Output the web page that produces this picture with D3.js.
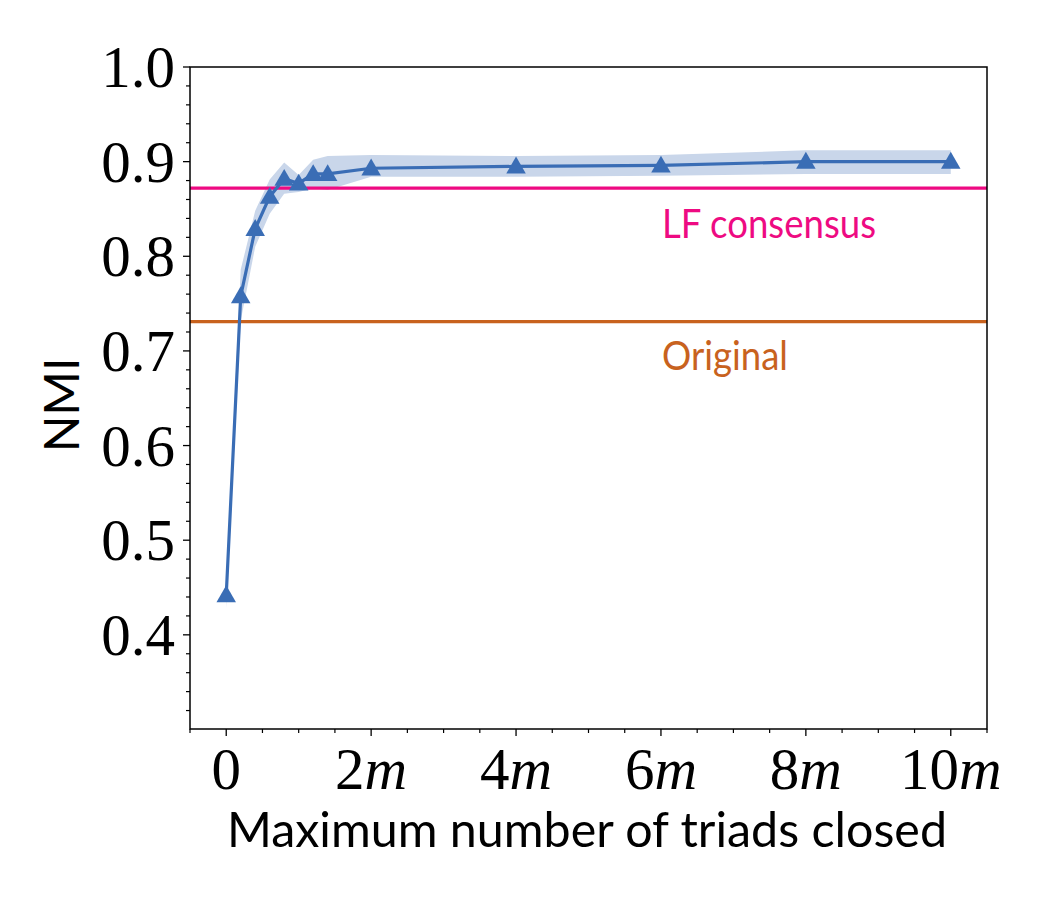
<!DOCTYPE html>
<html>
<head>
<meta charset="utf-8">
<script src="https://cdn.jsdelivr.net/npm/d3@7"></script>
<style>
  html, body { margin: 0; padding: 0; background: #fff; }
  svg { display: block; }
</style>
</head>
<body>
<svg id="chart" width="1050" height="900"></svg>
<script>
// ---- data (x in units of m) ----
const triads = [0, 0.2, 0.4, 0.6, 0.8, 1.0, 1.2, 1.4, 2, 4, 6, 8, 10];
const nmiMean = [0.442, 0.758, 0.829, 0.863, 0.882, 0.877, 0.887, 0.887, 0.893, 0.895, 0.896, 0.900, 0.900];
const nmiLow  = [0.428, 0.732, 0.810, 0.845, 0.866, 0.868, 0.872, 0.870, 0.884, 0.884, 0.885, 0.887, 0.887];
const nmiHigh = [0.455, 0.786, 0.848, 0.881, 0.899, 0.886, 0.902, 0.906, 0.907, 0.906, 0.907, 0.912, 0.912];
const refNames = ["LF consensus", "Original"];
const refValues = [0.872, 0.731];
const xTickValues = [0, 2, 4, 6, 8, 10];
const xTickLabels = ["0", "2m", "4m", "6m", "8m", "10m"];
const yTickValues = [0.4, 0.5, 0.6, 0.7, 0.8, 0.9, 1.0];
const yTickLabels = ["0.4", "0.5", "0.6", "0.7", "0.8", "0.9", "1.0"];

const refColors = ["#ee0a82", "#c8621e"];
const blue = "#3a6db5";

const svg = d3.select("#chart");
const L = 190, R = 987, T = 67, B = 729;
const x = d3.scaleLinear().domain([-0.5, 10.5]).range([L, R]);
const y = d3.scaleLinear().domain([0.3005, 1.0]).range([B, T]);

// band
const pts = triads.map((t, i) => ({x: t, m: nmiMean[i], lo: nmiLow[i], hi: nmiHigh[i]}));
svg.append("path")
  .datum(pts)
  .attr("d", d3.area().x(d => x(d.x)).y0(d => y(d.lo)).y1(d => y(d.hi)))
  .attr("fill", "#c9d6ea").attr("stroke", "none");

// reference lines
refValues.forEach((v, i) => {
  svg.append("line")
    .attr("x1", L).attr("x2", R).attr("y1", y(v)).attr("y2", y(v))
    .attr("stroke", refColors[i]).attr("stroke-width", 3.2);
});

// mean line
svg.append("path")
  .datum(pts)
  .attr("d", d3.line().x(d => x(d.x)).y(d => y(d.m)))
  .attr("fill", "none").attr("stroke", blue).attr("stroke-width", 3.2);

// triangle markers
const tri = d3.symbol().type(d3.symbolTriangle).size(165);
svg.selectAll("path.mk").data(pts).enter().append("path")
  .attr("class", "mk")
  .attr("d", tri)
  .attr("transform", d => `translate(${x(d.x)},${y(d.m) + 1.5})`)
  .attr("fill", blue);

// reference labels
const refLabelY = [238, 370];
refNames.forEach((n, i) => {
  svg.append("text")
    .attr("x", 662).attr("y", refLabelY[i])
    .attr("fill", refColors[i])
    .attr("font-family", "Lato, 'DejaVu Sans', sans-serif")
    .attr("font-size", 41)
    .attr("textLength", i === 0 ? 214 : 126)
    .attr("lengthAdjust", "spacingAndGlyphs")
    .text(n);
});

// frame
svg.append("rect").attr("x", L).attr("y", T).attr("width", R - L).attr("height", B - T)
  .attr("fill", "none").attr("stroke", "#000").attr("stroke-width", 1.5);

// y ticks
const yMinor = d3.range(16, 50).map(k => k * 0.02).filter(v => Math.abs(v * 10 - Math.round(v * 10)) > 1e-6 && v < 1.0);
yMinor.forEach(v => {
  svg.append("line").attr("x1", L - 4).attr("x2", L).attr("y1", y(v)).attr("y2", y(v))
    .attr("stroke", "#000").attr("stroke-width", 1.2);
});
yTickValues.forEach((v, i) => {
  svg.append("line").attr("x1", L - 7).attr("x2", L).attr("y1", y(v)).attr("y2", y(v))
    .attr("stroke", "#000").attr("stroke-width", 1.3);
  svg.append("text")
    .attr("x", 175).attr("y", y(v) + 20)
    .attr("text-anchor", "end")
    .attr("font-family", "'Liberation Serif', serif")
    .attr("font-size", 59)
    .text(yTickLabels[i]);
});

// x ticks
const xMinor = d3.range(-1, 22).map(k => k * 0.5).filter(v => v % 2 !== 0 && v <= 10.5);
xMinor.forEach(v => {
  svg.append("line").attr("x1", x(v)).attr("x2", x(v)).attr("y1", B).attr("y2", B + 4)
    .attr("stroke", "#000").attr("stroke-width", 1.2);
});
xTickValues.forEach((v, i) => {
  svg.append("line").attr("x1", x(v)).attr("x2", x(v)).attr("y1", B).attr("y2", B + 7)
    .attr("stroke", "#000").attr("stroke-width", 1.3);
  const t = svg.append("text")
    .attr("x", x(v)).attr("y", 789)
    .attr("text-anchor", "middle")
    .attr("font-family", "'Liberation Serif', serif")
    .attr("font-size", 59);
  const lab = xTickLabels[i];
  const num = lab.replace("m", "");
  t.append("tspan").text(num);
  if (lab.endsWith("m")) t.append("tspan").attr("font-style", "italic").text("m");
});

// axis titles
svg.append("text")
  .attr("x", 587).attr("y", 847)
  .attr("text-anchor", "middle")
  .attr("font-family", "Lato, 'DejaVu Sans', sans-serif")
  .attr("font-size", 48)
  .attr("textLength", 720)
  .attr("lengthAdjust", "spacingAndGlyphs")
  .text("Maximum number of triads closed");

svg.append("text")
  .attr("transform", "translate(79,405) rotate(-90)")
  .attr("text-anchor", "middle")
  .attr("font-family", "Lato, 'DejaVu Sans', sans-serif")
  .attr("font-size", 48)
  .text("NMI");
</script>
</body>
</html>
